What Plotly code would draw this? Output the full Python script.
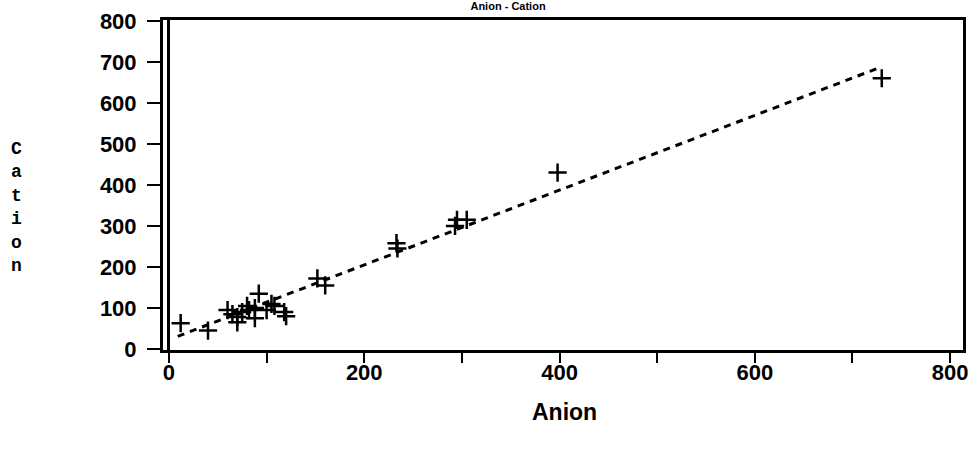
import plotly.graph_objects as go

anion = [12, 40, 60, 65, 70, 70, 75, 80, 82, 88, 88, 92, 100, 105, 108, 118, 120, 152, 160, 233, 234, 293, 295, 305, 398, 730]
cation = [63, 45, 95, 85, 78, 65, 90, 105, 95, 75, 100, 135, 95, 110, 105, 90, 80, 172, 155, 258, 245, 300, 315, 315, 430, 660]

fit_x = [9, 730]
fit_y = [31, 688]

x_ticks = [0, 100, 200, 300, 400, 500, 600, 700, 800]
x_labels = ["0", "", "200", "", "400", "", "600", "", "800"]
y_ticks = [0, 100, 200, 300, 400, 500, 600, 700, 800]
y_labels = ["0", "100", "200", "300", "400", "500", "600", "700", "800"]
ylabel_letters = ["C", "a", "t", "i", "o", "n"]

FONT = "Liberation Sans Narrow, Liberation Sans, Arial, sans-serif"
tickfont = dict(family=FONT, size=22, color="black", weight="bold")

fig = go.Figure()
fig.add_trace(go.Scatter(x=fit_x, y=fit_y, mode="lines",
                         line=dict(color="black", width=3, dash="7px,6px"),
                         hoverinfo="skip", showlegend=False))
fig.add_trace(go.Scatter(x=anion, y=cation, mode="markers",
                         marker=dict(symbol="cross-thin", size=13,
                                     line=dict(width=2.5, color="black")),
                         showlegend=False))

fig.update_layout(
    width=977, height=451,
    margin=dict(l=163, r=9, t=17, b=101),
    paper_bgcolor="white", plot_bgcolor="white",
    font=dict(family=FONT, size=20, color="black"),
    title=dict(text="Anion - Cation", x=0.52, xanchor="center",
               y=0.995, yref="container", yanchor="top",
               font=dict(family=FONT, size=11, color="black", weight="bold")),
    xaxis=dict(range=[-6.1, 813.2], tickmode="array", tickvals=x_ticks, ticktext=x_labels,
               ticks="outside", ticklen=10, tickwidth=2, tickcolor="black",
               ticklabelstandoff=-9,
               showgrid=False, zeroline=True, zerolinecolor="black", zerolinewidth=3,
               showline=True, linecolor="black", linewidth=3, mirror=True,
               tickfont=tickfont),
    yaxis=dict(range=[-2.4, 802], tickmode="array", tickvals=y_ticks, ticktext=y_labels,
               ticks="outside", ticklen=13, tickwidth=2, tickcolor="black",
               ticklabelstandoff=6,
               showgrid=False, zeroline=False,
               showline=True, linecolor="black", linewidth=3, mirror=True,
               tickfont=tickfont),
)

fig.add_annotation(text="Anion", xref="paper", yref="paper",
                   x=(567 - 163) / 805, y=(350 - 413) / 333,
                   xanchor="center", yanchor="middle", showarrow=False,
                   font=dict(family=FONT, size=23, color="black", weight="bold"))
fig.add_annotation(text="<br>".join(ylabel_letters), xref="paper", yref="paper",
                   x=(16 - 163) / 805, y=(350 - 206) / 333,
                   xanchor="center", yanchor="middle", showarrow=False,
                   font=dict(family="Liberation Mono, DejaVu Sans Mono, monospace",
                             size=18, color="black", weight="bold"))

fig.write_html("out.html", config={"displayModeBar": False},
               post_script="document.body.style.margin='0';")
